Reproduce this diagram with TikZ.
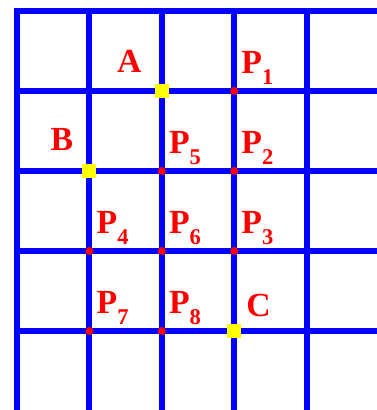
\documentclass[tikz,border=0pt]{standalone}
\usepackage{fontspec}
\setmainfont{Liberation Serif}
\usepackage{tikz}
\usetikzlibrary{positioning}
\definecolor{gridblue}{RGB}{0,0,255}
\definecolor{ptred}{RGB}{255,0,0}
\definecolor{markyellow}{RGB}{255,255,0}
\newcommand{\pidx}[1]{\raisebox{-7.8pt}{\fontsize{16}{16}\selectfont #1}}

\begin{document}
\begin{tikzpicture}[
    x=1.81cm, y=2cm,
    gridline/.style={draw=gridblue, line width=0.15cm, line cap=rect},
    dot/.style={circle, fill=ptred, inner sep=0pt, minimum size=0.2cm},
    corner/.style={rectangle, fill=markyellow, inner sep=0pt, minimum size=0.35cm},
    lbl/.style={text=ptred, font=\bfseries\fontsize{24}{24}\selectfont, inner sep=0pt}
]

\useasboundingbox (-0.235,0.0125) rectangle (4.972,5.1375);
\clip (-0.235,0.0125) rectangle (4.972,5.1375);

% grid (the picture is cut before the last lines)
\foreach \i in {0,...,4}
    \draw[gridline] (\i,-0.2) -- (\i,5);
\foreach \j in {1,...,5}
    \draw[gridline] (0,\j) -- (5.2,\j);

% marked corners
\node[corner] (A) at (2,4) {};
\node[corner] (B) at (1,3) {};
\node[corner] (C) at (3,1) {};

% points
\node[dot] (p1) at (3,4) {};
\node[dot] (p2) at (3,3) {};
\node[dot] (p3) at (3,2) {};
\node[dot] (p4) at (1,2) {};
\node[dot] (p5) at (2,3) {};
\node[dot] (p6) at (2,2) {};
\node[dot] (p7) at (1,1) {};
\node[dot] (p8) at (2,1) {};

% labels
\node[lbl, above left=0.47cm and 0.5cm of A.center, anchor=base east] (labA) {A};
\node[lbl, above left=0.52cm and 0.4cm of B.center, anchor=base east] (labB) {B};
\node[lbl, above right=0.37cm and 0.3cm of C.center, anchor=base west] (labC) {C};
\foreach \n in {1,...,8}
    \node[lbl, above right=0.44cm and 0.175cm of p\n.center, anchor=base west] (lab\n) {P\pidx{\n}};

\end{tikzpicture}
\end{document}
